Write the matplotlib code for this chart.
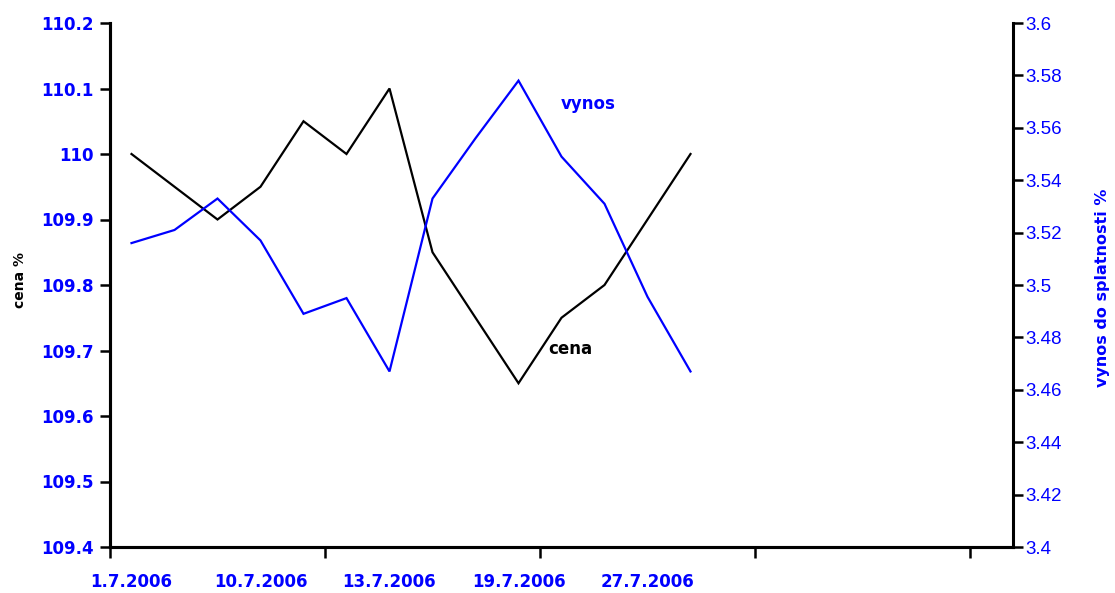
import matplotlib
matplotlib.use("Agg")
import matplotlib.pyplot as plt
from matplotlib.ticker import FixedLocator, FuncFormatter

# ---- data ----
category_labels = ["1.7.2006", "", "", "10.7.2006", "", "", "13.7.2006",
                   "", "", "19.7.2006", "", "", "27.7.2006", ""]
n_slots = 21
cena = [110.0, 109.95, 109.9, 109.95, 110.05, 110.0, 110.1,
        109.85, 109.75, 109.65, 109.75, 109.8, 109.9, 110.0]
vynos = [3.516, 3.521, 3.533, 3.517, 3.489, 3.495, 3.467,
         3.533, 3.556, 3.578, 3.549, 3.531, 3.4955, 3.467]
left_ticks = [109.4, 109.5, 109.6, 109.7, 109.8, 109.9, 110.0, 110.1, 110.2]
right_ticks = [3.40, 3.42, 3.44, 3.46, 3.48, 3.50, 3.52, 3.54, 3.56, 3.58, 3.60]

BLUE = "#0000FF"

fig = plt.figure(figsize=(11.15, 5.93), dpi=100)
ax = fig.add_axes([110 / 1115, 1 - 547 / 593, 903 / 1115, 524 / 593])
ax2 = ax.twinx()

x = [i + 0.5 for i in range(len(cena))]
ax.plot(x, cena, color="black", lw=1.6, solid_joinstyle="miter")
ax2.plot(x, vynos, color=BLUE, lw=1.6, solid_joinstyle="miter")

ax.set_xlim(0, n_slots)
ax.set_ylim(109.4, 110.2)
ax2.set_ylim(3.4, 3.6)

for a in (ax, ax2):
    a.spines["top"].set_visible(False)
    for s in ("left", "right", "bottom"):
        a.spines[s].set_linewidth(2.2)
ax.spines["right"].set_visible(False)

# x axis: major tick marks every 5 slots, labels under every 3rd category
ax.xaxis.set_major_locator(FixedLocator([0, 5, 10, 15, 20]))
ax.xaxis.set_major_formatter(FuncFormatter(lambda v, p: ""))
lab_pos = [i + 0.5 for i, t in enumerate(category_labels) if t]
lab_txt = [t for t in category_labels if t]
ax.xaxis.set_minor_locator(FixedLocator(lab_pos))
ax.set_xticklabels(lab_txt, minor=True)
ax.tick_params(axis="x", which="major", direction="out", length=8, width=1.8)
ax.tick_params(axis="x", which="minor", length=0, pad=19)
for t in ax.get_xticklabels(minor=True):
    t.set_fontfamily("DejaVu Sans")
    t.set_fontweight("bold")
    t.set_fontsize(12)
    t.set_color(BLUE)

# left axis
ax.set_yticks(left_ticks)
ax.yaxis.set_major_formatter(FuncFormatter(lambda v, p: f"{round(v, 2):g}"))
ax.tick_params(axis="y", direction="out", length=7, width=1.8, pad=5,
               labelsize=12, labelcolor=BLUE)
for t in ax.get_yticklabels():
    t.set_fontweight("bold")

# right axis
ax2.set_yticks(right_ticks)
ax2.yaxis.set_major_formatter(FuncFormatter(lambda v, p: f"{round(v, 2):g}"))
ax2.tick_params(axis="y", direction="out", length=7, width=1.8, pad=2,
                labelsize=13.5, labelcolor=BLUE)
for t in ax2.get_yticklabels():
    t.set_fontfamily("Liberation Sans")

# axis titles
fig.text(20 / 1115, 1 - 280 / 593, "cena %", rotation=90, fontsize=10,
         fontweight="bold", color="black", ha="center", va="center")
fig.text(1103 / 1115, 1 - 288 / 593, "vynos do splatnosti %", rotation=90,
         fontsize=11.5, fontweight="bold", color=BLUE, ha="center", va="center")

# series labels
ax2.text(11.13, 3.569, "vynos", color=BLUE, fontsize=12, fontweight="bold",
         ha="center", va="center")
ax.text(10.7, 109.702, "cena", color="black", fontsize=12, fontweight="bold",
        ha="center", va="center")

fig.savefig("out.png", dpi=100)
